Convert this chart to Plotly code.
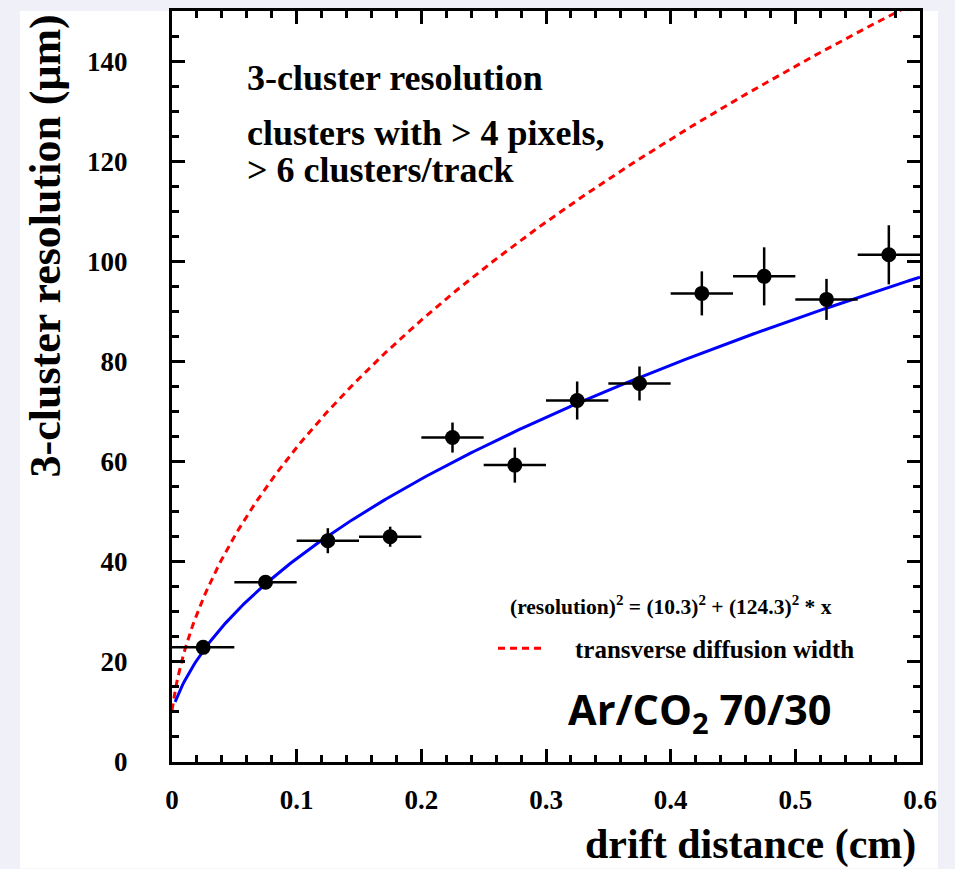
import numpy as np
import plotly.graph_objects as go

# ---- data ----
drift_x = [0.025, 0.075, 0.125, 0.175, 0.225, 0.275, 0.325, 0.375, 0.425, 0.475, 0.525, 0.575]
drift_xerr = [0.025] * 12
resolution = [22.9, 35.9, 44.2, 45.0, 64.8, 59.3, 72.2, 75.6, 93.6, 97.0, 92.4, 101.3]
resolution_err = [1.0, 1.3, 2.5, 2.0, 3.0, 3.5, 3.8, 3.4, 4.4, 5.8, 4.1, 5.9]

# fit model shown on the chart: res^2 = a^2 + b^2 * x
fit_a = 10.3
fit_b = 124.3
fit_range = (0.0025, 0.6)
# transverse diffusion width: sqrt(a^2 + D^2 * x)
diff_D = 196.0
diff_range = (0.0, 0.6)

x_ticks = [0, 0.1, 0.2, 0.3, 0.4, 0.5, 0.6]
x_ticklabels = ["0", "0.1", "0.2", "0.3", "0.4", "0.5", "0.6"]
y_ticks = [0, 20, 40, 60, 80, 100, 120, 140]

xf = np.linspace(fit_range[0], fit_range[1], 400)
yf = np.sqrt(fit_a**2 + fit_b**2 * xf)
xd = np.linspace(diff_range[0], diff_range[1], 400)
yd = np.sqrt(fit_a**2 + diff_D**2 * xd)

SERIF = "Liberation Serif"
SANS = "Open Sans"

fig = go.Figure()
fig.add_trace(go.Scatter(
    x=xd, y=yd, mode="lines", name="&nbsp;&nbsp;&nbsp;&nbsp;transverse diffusion width",
    line=dict(color="#ff0000", width=3, dash="7px,5px"), showlegend=True,
))
fig.add_trace(go.Scatter(
    x=xf, y=yf, mode="lines", name="fit",
    line=dict(color="#0000ff", width=3), showlegend=False,
))
fig.add_trace(go.Scatter(
    x=drift_x, y=resolution, mode="markers", name="data", showlegend=False,
    marker=dict(color="black", size=15, symbol="circle"),
    error_x=dict(type="data", array=drift_xerr, color="black", thickness=2.5, width=0),
    error_y=dict(type="data", array=resolution_err, color="black", thickness=2.5, width=0),
))

W, H = 955, 869
L, R, T, B = 172, 35, 8, 107
pw, ph = W - L - R, H - T - B

def px(xp):
    return (xp - L) / pw

def py(yp):
    return (H - B - yp) / ph

axis_common = dict(
    showline=True, linecolor="black", linewidth=3, mirror="ticks",
    ticks="inside", ticklen=13, tickwidth=2.5, tickcolor="black",
    showgrid=False, zeroline=False,
    tickfont=dict(family=SERIF, size=27, color="black", weight="bold"),
)

fig.update_xaxes(
    range=[0, 0.6], tickvals=x_ticks, ticktext=x_ticklabels,
    minor=dict(dtick=0.02, ticks="inside", ticklen=7, tickwidth=2.5, tickcolor="black", showgrid=False),
    ticklabelstandoff=12, **axis_common,
)
fig.update_yaxes(
    range=[0, 150], tickvals=y_ticks,
    minor=dict(dtick=5, ticks="inside", ticklen=7, tickwidth=2.5, tickcolor="black", showgrid=False),
    ticklabelstandoff=36, **axis_common,
)

ann = []
def text(xp, yp, s, size, family=SERIF, xanchor="left", yanchor="middle", angle=0):
    ann.append(dict(
        x=px(xp), y=py(yp), xref="paper", yref="paper", text=s, showarrow=False,
        xanchor=xanchor, yanchor=yanchor, textangle=angle,
        font=dict(family=family, size=size, color="black", weight="bold"),
    ))

text(245, 75, "3-cluster resolution", 36)
text(245, 130, "clusters with &gt; 4 pixels,", 36)
text(245, 168, "&gt; 6 clusters/track", 36)
text(508, 605, "(resolution)<sup>2</sup> = (10.3)<sup>2</sup> + (124.3)<sup>2</sup> * x", 21.5)
text(566, 712, "Ar/CO<sub>2</sub> 70/30", 41.5, family=SANS)
text(918, 845, "drift distance (cm)", 42, xanchor="right")
text(45, 10, "3-cluster resolution (μm)", 44, xanchor="center", yanchor="top", angle=-90)

fig.update_layout(
    width=W, height=H,
    margin=dict(l=L, r=R, t=T, b=B, pad=0),
    paper_bgcolor="#eff0f8", plot_bgcolor="white",
    annotations=ann,
    shapes=[dict(type="rect", xref="paper", yref="paper",
                 x0=px(20), x1=px(938), y0=py(H), y1=py(T),
                 fillcolor="white", line=dict(width=0), layer="below")],
    legend=dict(x=px(493), y=py(648), xanchor="left", yanchor="middle",
                bgcolor="rgba(0,0,0,0)", borderwidth=0, itemwidth=47,
                font=dict(family=SERIF, size=25, color="black", weight="bold")),
)

fig.write_html("out.html")
